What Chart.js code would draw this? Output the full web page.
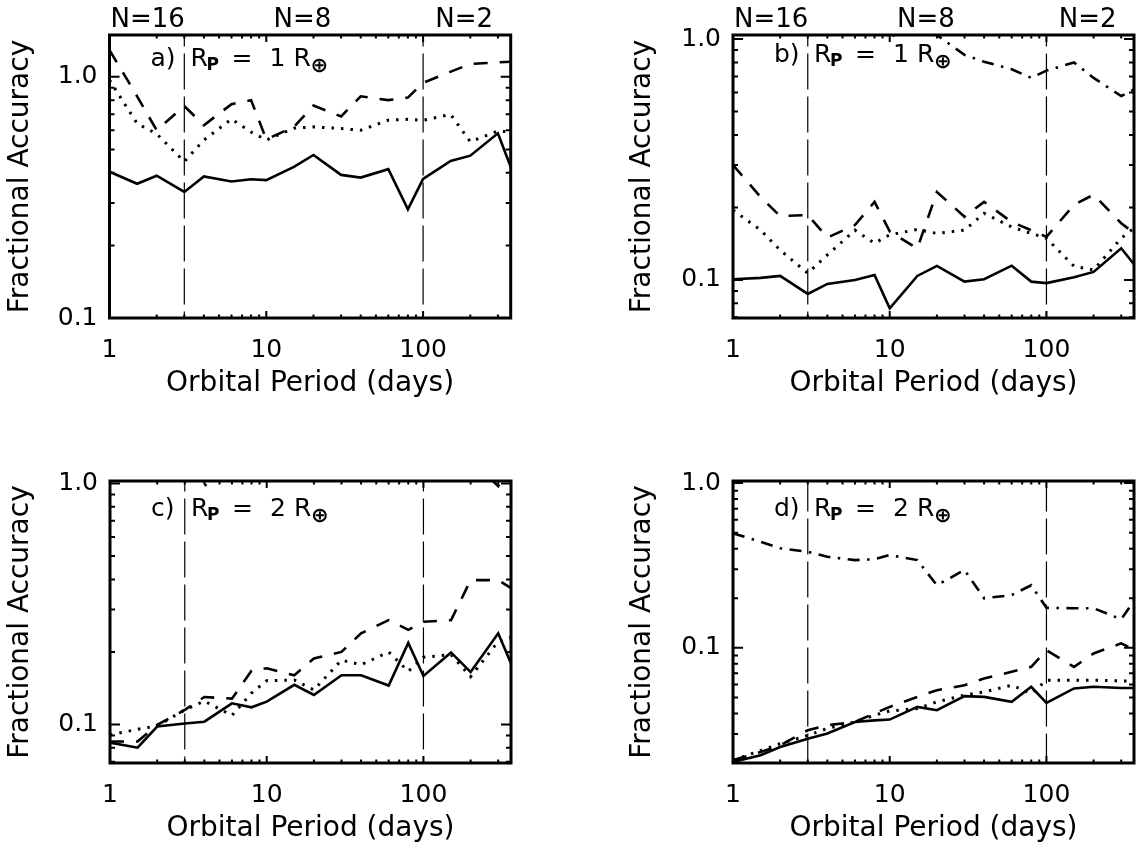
<!DOCTYPE html>
<html><head><meta charset="utf-8">
<script src="https://cdn.jsdelivr.net/npm/chart.js@4.4.1/dist/chart.umd.min.js"></script>
<style>
html,body{margin:0;padding:0;background:#fff;overflow:hidden;width:1136px;height:853px;position:relative;}
canvas{position:absolute;}
</style></head><body>
<canvas id="ca" width="568" height="420" style="left:0;top:0"></canvas>
<canvas id="cb" width="600" height="420" style="left:568px;top:0"></canvas>
<canvas id="cc" width="568" height="433" style="left:0;top:420px"></canvas>
<canvas id="cd" width="600" height="433" style="left:568px;top:420px"></canvas>
<script>
// ---- data ----
const periods = [1, 1.5, 2, 3, 4, 6, 8, 10, 15, 20, 30, 40, 60, 80, 100, 150, 200, 300, 365];

const aSolid  = [0.404,0.36,0.389,0.333,0.386,0.368,0.376,0.373,0.423,0.474,0.392,0.382,0.414,0.282,0.377,0.448,0.471,0.583,0.417];
const aDashed = [1.29,0.83,0.60,0.756,0.63,0.77,0.80,0.55,0.62,0.76,0.685,0.83,0.80,0.82,0.944,1.05,1.13,1.147,1.154];
const aDotted = [0.97,0.64,0.58,0.445,0.547,0.668,0.59,0.547,0.612,0.62,0.61,0.60,0.661,0.666,0.66,0.698,0.538,0.596,0.59];

const bSolid   = [0.1007,0.102,0.1039,0.0875,0.0963,0.1,0.1049,0.0763,0.1039,0.1143,0.0984,0.1007,0.1146,0.0984,0.097,0.1026,0.108,0.1354,0.1154];
const bDashed  = [0.30,0.221,0.184,0.186,0.150,0.169,0.211,0.159,0.135,0.232,0.183,0.211,0.174,0.161,0.151,0.205,0.226,0.172,0.156];
const bDotted  = [0.195,0.161,0.133,0.1066,0.127,0.161,0.142,0.154,0.162,0.156,0.161,0.189,0.166,0.156,0.149,0.114,0.110,0.149,0.165];
const bDashDot = [1.3,1.3,1.3,1.3,1.3,1.3,1.3,1.0,1.3,1.04,0.86,0.805,0.75,0.69,0.74,0.80,0.69,0.58,0.62];

const cSolid   = [0.0841,0.0801,0.098,0.101,0.1027,0.1224,0.1178,0.1244,0.146,0.1326,0.160,0.160,0.145,0.218,0.159,0.199,0.165,0.239,0.177];
const cDashed  = [0.085,0.085,0.0996,0.115,0.130,0.128,0.167,0.171,0.160,0.188,0.20,0.239,0.271,0.247,0.267,0.271,0.397,0.397,0.367];
const cDotted  = [0.0905,0.0955,0.0986,0.115,0.125,0.109,0.135,0.152,0.153,0.139,0.185,0.177,0.20,0.166,0.19,0.195,0.158,0.221,0.23];
const cDashDot = [1.3,1.3,1.3,1.25,0.975,1.25,1.3,1.3,1.3,1.3,1.3,1.3,1.3,1.3,1.3,1.3,1.25,0.975,1.25];

const dSolid   = [0.0203,0.0223,0.025,0.0281,0.0302,0.0355,0.0363,0.0367,0.0438,0.0418,0.0509,0.0504,0.047,0.058,0.0463,0.0567,0.058,0.0571,0.0571];
const dDashed  = [0.0208,0.0233,0.0256,0.0316,0.0339,0.0355,0.040,0.0438,0.0504,0.0553,0.0593,0.0652,0.0715,0.0767,0.0968,0.0767,0.0925,0.1065,0.0968];
const dDotted  = [0.0208,0.0238,0.0262,0.0294,0.0324,0.0355,0.039,0.0414,0.0428,0.047,0.0516,0.054,0.0593,0.0528,0.0636,0.0636,0.0636,0.063,0.063];
const dDashDot = [0.496,0.441,0.402,0.383,0.357,0.341,0.345,0.366,0.341,0.240,0.297,0.20,0.209,0.240,0.175,0.174,0.174,0.149,0.195];

// reference lines (orbital periods) and top annotations
const refPeriods = [3, 100];
const nLabels = ['N=16', 'N=8', 'N=2'];
const nLabelPeriods = [1.75, 17, 183];

// ticks
const xTickVals = [1,2,3,4,5,6,7,8,9,10,20,30,40,50,60,70,80,90,100,200,300];
const xMajorVals = [1, 10, 100];
const xTickLabels = ['1', '10', '100'];
const yMajorVals = [0.1, 1];
const yTickLabels = ['0.1', '1.0'];
const yTicksA = [0.1,0.2,0.3,0.4,0.5,0.6,0.7,0.8,0.9,1];
const yTicksB = [0.07,0.08,0.09,0.1,0.2,0.3,0.4,0.5,0.6,0.7,0.8,0.9,1];
const yTicksD = [0.02,0.03,0.04,0.05,0.06,0.07,0.08,0.09,0.1,0.2,0.3,0.4,0.5,0.6,0.7,0.8,0.9,1];

const FONT = 'DejaVu Sans';

function pts(arr) { return periods.map((p, i) => ({x: p, y: arr[i]})); }

const STYLES = {
  solid:   {borderDash: [], borderWidth: 2.6},
  dashed:  {borderDash: [14, 12], borderWidth: 2.6},
  dotted:  {borderDash: [2.5, 7], borderWidth: 3},
  dashdot: {borderDash: [12, 7.5, 2.5, 7.5], borderWidth: 2.6}
};

const framePlugin = {
  id: 'frame',
  afterDraw(chart) {
    const o = chart.options.plugins.frame;
    const {ctx, chartArea: ca, scales: {x, y}} = chart;
    ctx.save();
    ctx.strokeStyle = '#000';
    ctx.fillStyle = '#000';
    ctx.setLineDash([]);
    ctx.lineWidth = 2;
    ctx.beginPath();
    xTickVals.forEach(v => {
      const px = x.getPixelForValue(v);
      const L = xMajorVals.includes(v) ? 7 : 3.5;
      ctx.moveTo(px, ca.bottom); ctx.lineTo(px, ca.bottom - L);
      ctx.moveTo(px, ca.top); ctx.lineTo(px, ca.top + L);
    });
    o.yTicks.forEach(v => {
      if (v < y.min || v > y.max) return;
      const py = y.getPixelForValue(v);
      const L = yMajorVals.includes(v) ? 10 : 5;
      ctx.moveTo(ca.left, py); ctx.lineTo(ca.left + L, py);
      ctx.moveTo(ca.right, py); ctx.lineTo(ca.right - L, py);
    });
    ctx.stroke();
    ctx.lineWidth = 3;
    ctx.strokeRect(ca.left, ca.top, ca.right - ca.left, ca.bottom - ca.top);

    // panel label
    const x0 = ca.left, bl = ca.top + o.labelDy;
    ctx.textAlign = 'left';
    ctx.textBaseline = 'alphabetic';
    ctx.font = '25px "' + FONT + '"';
    ctx.fillText(o.letter + ')', x0 + 41, bl);
    ctx.fillText('R', x0 + 81, bl);
    ctx.fillText('=', x0 + 122, bl);
    ctx.fillText(o.rp, x0 + 160, bl);
    ctx.fillText('R', x0 + 184, bl);
    ctx.font = 'bold 17px "' + FONT + '"';
    ctx.fillText('P', x0 + 97, bl + 4);
    ctx.font = 'bold 21px "' + FONT + '"';
    ctx.fillText('\u2295', x0 + 201, bl + 6);

    if (o.showN) {
      ctx.font = '26px "' + FONT + '"';
      ctx.textAlign = 'center';
      nLabels.forEach((t, i) => {
        ctx.fillText(t, x.getPixelForValue(nLabelPeriods[i]), 27);
      });
    }
    ctx.restore();
  }
};

function makePanel(id, o) {
  const datasets = [];
  o.series.forEach(s => {
    datasets.push(Object.assign({
      data: pts(s.data), borderColor: '#000', backgroundColor: '#000',
      pointRadius: 0, fill: false, tension: 0, clip: 0,
      borderCapStyle: 'butt', borderJoinStyle: 'miter'
    }, STYLES[s.style]));
  });
  refPeriods.forEach(p => {
    datasets.push({
      data: [{x: p, y: o.ymin * 0.5}, {x: p, y: o.ymax * 2}],
      borderColor: '#000', borderWidth: 1.2, borderDash: [36, 7],
      pointRadius: 0, fill: false, clip: 0, borderCapStyle: 'butt'
    });
  });
  return new Chart(document.getElementById(id), {
    type: 'line',
    data: {datasets},
    options: {
      responsive: false, animation: false, devicePixelRatio: 1,
      layout: {padding: {left: 0, top: o.top, right: o.canvasW - o.right, bottom: 0}},
      plugins: {
        legend: {display: false}, tooltip: {enabled: false},
        frame: {yTicks: o.yTicks, letter: o.letter, rp: o.rp, labelDy: o.labelDy, showN: o.showN}
      },
      scales: {
        x: {
          type: 'logarithmic', position: 'bottom', min: 1, max: 362,
          grid: {display: false, drawTicks: false}, border: {display: false},
          ticks: {
            autoSkip: false, maxRotation: 0, minRotation: 0, padding: 17, color: '#000',
            font: {family: FONT, size: 25},
            callback: v => { const i = xMajorVals.indexOf(v); return i >= 0 ? xTickLabels[i] : ''; }
          },
          afterBuildTicks: s => { s.ticks = xTickVals.map(v => ({value: v})); },
          afterFit: s => { s.height = o.canvasH - o.bottom; },
          title: {display: true, text: 'Orbital Period (days)', color: '#000',
                  font: {family: FONT, size: 28}, padding: {top: 0, bottom: o.xTitlePad}}
        },
        y: {
          type: 'logarithmic', position: 'left', min: o.ymin, max: o.ymax,
          grid: {display: false, drawTicks: false}, border: {display: false},
          ticks: {
            autoSkip: false, padding: 12, color: '#000',
            font: {family: FONT, size: 25},
            callback: v => { const i = yMajorVals.findIndex(m => Math.abs(m - v) < 1e-9); return i >= 0 ? yTickLabels[i] : ''; }
          },
          afterBuildTicks: s => { s.ticks = o.yTicks.filter(v => v >= o.ymin && v <= o.ymax).map(v => ({value: v})); },
          afterFit: s => { s.width = o.left; },
          title: {display: true, text: 'Fractional Accuracy', color: '#000',
                  font: {family: FONT, size: 28}, padding: {top: o.yTitlePad, bottom: 0}}
        }
      }
    },
    plugins: [framePlugin]
  });
}

makePanel('ca', {canvasW: 568, canvasH: 420, left: 109.5, right: 510.7, top: 35, bottom: 318,
  ymin: 0.1, ymax: 1.49, yTicks: yTicksA, letter: 'a', rp: '1', labelDy: 31, showN: true,
  xTitlePad: 19.4, yTitlePad: 3.5,
  series: [{data: aSolid, style: 'solid'}, {data: aDashed, style: 'dashed'}, {data: aDotted, style: 'dotted'}]});

makePanel('cb', {canvasW: 600, canvasH: 420, left: 165, right: 566, top: 35, bottom: 318,
  ymin: 0.0695, ymax: 1.04, yTicks: yTicksB, letter: 'b', rp: '1', labelDy: 27, showN: true,
  xTitlePad: 19.4, yTitlePad: 57.9,
  series: [{data: bSolid, style: 'solid'}, {data: bDashed, style: 'dashed'}, {data: bDotted, style: 'dotted'}, {data: bDashDot, style: 'dashdot'}]});

makePanel('cc', {canvasW: 568, canvasH: 433, left: 110, right: 511, top: 61, bottom: 343,
  ymin: 0.0692, ymax: 1.024, yTicks: yTicksB, letter: 'c', rp: '2', labelDy: 35, showN: false,
  xTitlePad: 7.5, yTitlePad: 3.5,
  series: [{data: cSolid, style: 'solid'}, {data: cDashed, style: 'dashed'}, {data: cDotted, style: 'dotted'}, {data: cDashDot, style: 'dashdot'}]});

makePanel('cd', {canvasW: 600, canvasH: 433, left: 165, right: 566, top: 61, bottom: 343,
  ymin: 0.02, ymax: 1.03, yTicks: yTicksD, letter: 'd', rp: '2', labelDy: 35, showN: false,
  xTitlePad: 7.5, yTitlePad: 57.9,
  series: [{data: dSolid, style: 'solid'}, {data: dDashed, style: 'dashed'}, {data: dDotted, style: 'dotted'}, {data: dDashDot, style: 'dashdot'}]});
</script>
</body></html>
